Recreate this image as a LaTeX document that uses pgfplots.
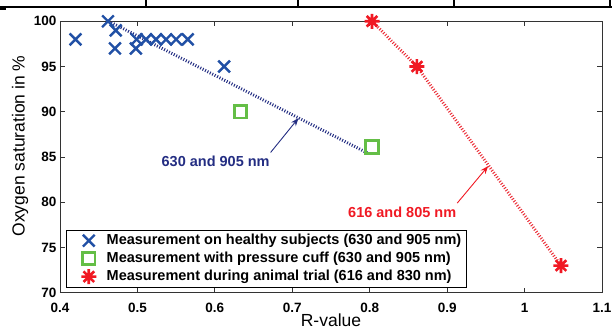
\documentclass[border=0pt]{standalone}
\usepackage{fontspec}
\setmainfont{Liberation Sans}
\usepackage{pgfplots}
\pgfplotsset{compat=1.18}
\usetikzlibrary{arrows.meta}
\definecolor{bx}{RGB}{33,80,165}
\definecolor{gs}{RGB}{100,190,70}
\definecolor{rs}{RGB}{240,25,35}
\definecolor{navy}{RGB}{35,45,130}
\definecolor{rl}{RGB}{235,45,55}
\pgfdeclareplotmark{mstar}{%
 \pgfpathmoveto{\pgfqpoint{-\pgfplotmarksize}{0pt}}\pgfpathlineto{\pgfqpoint{\pgfplotmarksize}{0pt}}%
 \pgfpathmoveto{\pgfqpoint{0pt}{-\pgfplotmarksize}}\pgfpathlineto{\pgfqpoint{0pt}{\pgfplotmarksize}}%
 \pgfpathmoveto{\pgfqpoint{-0.7071\pgfplotmarksize}{-0.7071\pgfplotmarksize}}\pgfpathlineto{\pgfqpoint{0.7071\pgfplotmarksize}{0.7071\pgfplotmarksize}}%
 \pgfpathmoveto{\pgfqpoint{-0.7071\pgfplotmarksize}{0.7071\pgfplotmarksize}}\pgfpathlineto{\pgfqpoint{0.7071\pgfplotmarksize}{-0.7071\pgfplotmarksize}}%
 \pgfusepathqstroke}
\begin{document}
\begin{tikzpicture}
\useasboundingbox (-60pt,-36.3pt) rectangle (552pt,292.7pt);
% top decoration strip
\draw[line width=2pt] (-60pt,285.7pt) -- (552pt,285.7pt);
\foreach \xx in {86,238,394,550} \draw[line width=2pt] (\xx pt,285.7pt) -- (\xx pt,293pt);
\fill (-60pt,282.5pt) rectangle (-54pt,285.5pt);
\begin{axis}[
 scale only axis, width=542pt, height=271.4pt,
 xmin=0.4, xmax=1.1, ymin=70, ymax=100,
 xtick={0.4,0.5,0.6,0.7,0.8,0.9,1,1.1},
 xticklabels={0.4,0.5,0.6,0.7,0.8,0.9,1,1.1},
 ytick={70,75,80,85,90,95,100},
 yticklabels={70,75,80,85,90,95,100},
 tick align=inside, major tick length=5pt,
 axis line style={black!80, line width=0.8pt},
 tick style={black!80, line width=0.8pt},
 ticklabel style={font=\bfseries\fontsize{13.5}{14}\selectfont},
 xticklabel style={yshift=-6.5pt},
 xlabel={R-value}, ylabel={Oxygen saturation in \%},
 label style={font=\fontsize{17.5}{18}\selectfont},
 xlabel style={anchor=center, at={(axis description cs:0.5,-0.101)}},
 ylabel style={anchor=center, rotate=0, at={(axis description cs:-0.0738,0.5405)}},
 clip=false,
 legend cell align=left,
 legend style={at={(axis description cs:0,0)}, anchor=south west, xshift=6pt, yshift=5.4pt,
   draw=black, line width=0.8pt, font=\bfseries\fontsize{14.5}{16}\selectfont,
   inner xsep=4pt, inner ysep=2pt, row sep=1.5pt,
   nodes={text height=10.5pt, text depth=3pt, inner sep=1.5pt}},
 legend image code/.code={\path (0,0) (32pt,0); \draw[#1,mark repeat=1] plot coordinates {(17pt,0pt)};},
]
% fit lines
\addplot[forget plot, navy, line width=3pt, dash pattern=on 1pt off 1.7pt] coordinates {(0.463,100) (0.798,85.4)};
\addplot[forget plot, rl, line width=3pt, dash pattern=on 1pt off 1.7pt] coordinates {(0.803,100) (0.861,95) (1.047,73)};
% data
\addplot[only marks, mark=x, mark size=8.3pt, bx, line width=2.4pt] coordinates {
 (0.42,98) (0.462,100) (0.472,99) (0.471,97) (0.498,97) (0.499,98) (0.511,98)
 (0.524,98) (0.537,98) (0.550,98) (0.565,98) (0.612,95)};
\addlegendentry{Measurement on healthy subjects (630 and 905 nm)}
\addplot[only marks, mark=square, mark size=6.2pt, gs, line width=2.8pt] coordinates {
 (0.633,90) (0.803,86.1)};
\addlegendentry{Measurement with pressure cuff (630 and 905 nm)}
\addplot[only marks, mark=mstar, mark size=7.5pt, rs, line width=2.6pt] coordinates {
 (0.803,100) (0.861,95) (1.047,73)};
\addlegendentry{Measurement during animal trial (616 and 830 nm)}
% annotations
\draw[navy, line width=0.9pt, -{Stealth[length=8pt,width=6pt]}] (axis cs:0.672,85.5) -- (axis cs:0.708,89.3);
\node[navy, font=\bfseries\fontsize{14.5}{16}\selectfont] at (axis cs:0.601,84.56) {630 and 905 nm};
\draw[rs, line width=0.9pt, -{Stealth[length=8pt,width=6pt]}] (axis cs:0.913,79.9) -- (axis cs:0.953,84.0);
\node[rs, font=\bfseries\fontsize{14.5}{16}\selectfont] at (axis cs:0.842,78.9) {616 and 805 nm};
\end{axis}
\end{tikzpicture}
\end{document}
